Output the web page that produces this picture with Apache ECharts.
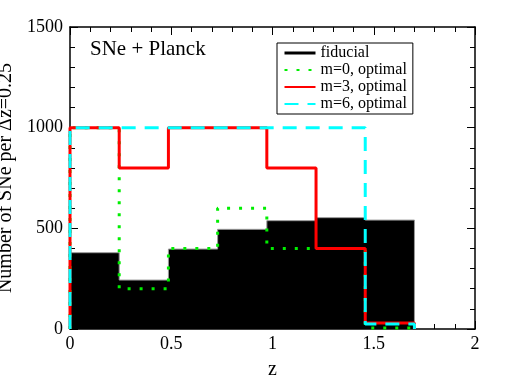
<!DOCTYPE html>
<html>
<head>
<meta charset="utf-8">
<script src="https://cdn.jsdelivr.net/npm/echarts@6/dist/echarts.min.js"></script>
<style>
  html, body { margin: 0; padding: 0; background: #fff; }
  #container { width: 512px; height: 388px; }
</style>
</head>
<body>
<div id="container"></div>
<script>
// bin edges in z (bins of roughly 0.25)
const binEdges = [0, 0.243, 0.486, 0.729, 0.972, 1.215, 1.458, 1.701];
// number of SNe per bin
const fiducial = [379, 243, 397, 495, 538, 553, 541];
const m0Optimal = [1000, 200, 400, 600, 400, 400, 5];
const m3Optimal = [1000, 800, 1000, 1000, 800, 400, 30];
const m6Optimal = [1000, 1000, 1000, 1000, 1000, 1000, 25];
const xTicks = [0, 0.5, 1, 1.5, 2];
const yTicks = [0, 500, 1000, 1500];

const serif = "'Times New Roman', 'Liberation Serif', serif";

// histogram outline as step points (step: 'end')
function steps(vals) {
    const pts = [[binEdges[0], 0]];
    vals.forEach((v, i) => pts.push([binEdges[i], v]));
    pts.push([binEdges[binEdges.length - 1], vals[vals.length - 1]]);
    pts.push([binEdges[binEdges.length - 1], 0]);
    return pts;
}

const chart = echarts.init(document.getElementById('container'), null, { renderer: 'canvas' });

// frame axis; the mirror axes (top/right) sit on the zero of a reversed-range partner axis
function frameAxis(zeroIndex) {
    return {
        axisLine: { show: true, onZero: true, onZeroAxisIndex: zeroIndex, lineStyle: { color: '#000', width: 1.5 } },
        axisTick: { show: true, inside: true, length: 8, lineStyle: { color: '#000', width: 1 } },
        minorTick: { show: true, splitNumber: 5, length: 5, lineStyle: { color: '#000', width: 1 } },
        splitLine: { show: false }
    };
}

const xMax = xTicks[xTicks.length - 1];
const yMax = yTicks[yTicks.length - 1];
// mirror axes keep labels (so ticks get built) but draw them invisible
const hiddenLabel = { show: true, color: 'rgba(0,0,0,0)', fontSize: 10 };

const option = {
    animation: false,
    backgroundColor: '#fff',
    title: {
        text: 'SNe + Planck',
        left: 90,
        top: 39,
        padding: 0,
        textStyle: { fontFamily: serif, fontSize: 21, fontWeight: 'normal', color: '#000' }
    },
    legend: {
        orient: 'vertical',
        left: 277,
        top: 43,
        padding: [2, 6, 2, 6],
        itemGap: 1,
        itemWidth: 31,
        itemHeight: 16,
        borderColor: '#000',
        borderWidth: 1,
        backgroundColor: '#fff',
        itemStyle: { opacity: 0 },
        textStyle: { fontFamily: serif, fontSize: 16, color: '#000' },
        data: [
            { name: 'fiducial', lineStyle: { color: '#000', width: 3 } },
            'm=0, optimal', 'm=3, optimal', 'm=6, optimal'
        ]
    },
    grid: { left: 70, right: 37, top: 27, bottom: 59, containLabel: false, outerBoundsMode: 'none' },
    xAxis: [
        Object.assign({ type: 'value', min: 0, max: xMax, interval: 0.5, position: 'bottom' }, frameAxis(0), {
            name: 'z',
            nameLocation: 'middle',
            nameGap: 31,
            nameTextStyle: { fontFamily: serif, fontSize: 20, color: '#000' },
            axisLabel: { fontFamily: serif, fontSize: 18, color: '#000', margin: 6 }
        }),
        Object.assign({ type: 'value', min: -xMax, max: 0, interval: 0.5, position: 'top' }, frameAxis(1), {
            axisLabel: hiddenLabel
        })
    ],
    yAxis: [
        Object.assign({ type: 'value', min: 0, max: yMax, interval: 500, position: 'left' }, frameAxis(0), {
            name: 'Number of SNe per \u0394z=0.25',
            nameLocation: 'middle',
            nameGap: 54,
            nameTextStyle: { fontFamily: serif, fontSize: 20, color: '#000' },
            axisLabel: { fontFamily: serif, fontSize: 18, color: '#000', margin: 7, formatter: v => String(v) }
        }),
        Object.assign({ type: 'value', min: -yMax, max: 0, interval: 500, position: 'right' }, frameAxis(1), {
            axisLabel: hiddenLabel
        })
    ],
    series: [
        {
            name: 'fiducial',
            type: 'line',
            step: 'end',
            symbol: 'none',
            data: steps(fiducial),
            lineStyle: { color: '#999', width: 1 },
            itemStyle: { color: '#000' },
            areaStyle: { color: '#000', opacity: 1 },
            z: 2
        },
        {
            name: 'm=0, optimal',
            type: 'line',
            step: 'end',
            symbol: 'none',
            data: steps(m0Optimal),
            lineStyle: { color: '#00ee00', width: 3, type: [3, 9], cap: 'butt' },
            itemStyle: { color: '#00ee00' },
            z: 3
        },
        {
            name: 'm=3, optimal',
            type: 'line',
            step: 'end',
            symbol: 'none',
            data: steps(m3Optimal),
            lineStyle: { color: '#ff0000', width: 3 },
            itemStyle: { color: '#ff0000' },
            z: 4
        },
        {
            name: 'm=6, optimal',
            type: 'line',
            step: 'end',
            symbol: 'none',
            data: steps(m6Optimal),
            lineStyle: { color: '#00ffff', width: 3, type: [14, 9], cap: 'butt' },
            itemStyle: { color: '#00ffff' },
            z: 5
        }
    ]
};

chart.setOption(option);
window.addEventListener('resize', () => chart.resize());
</script>
</body>
</html>
